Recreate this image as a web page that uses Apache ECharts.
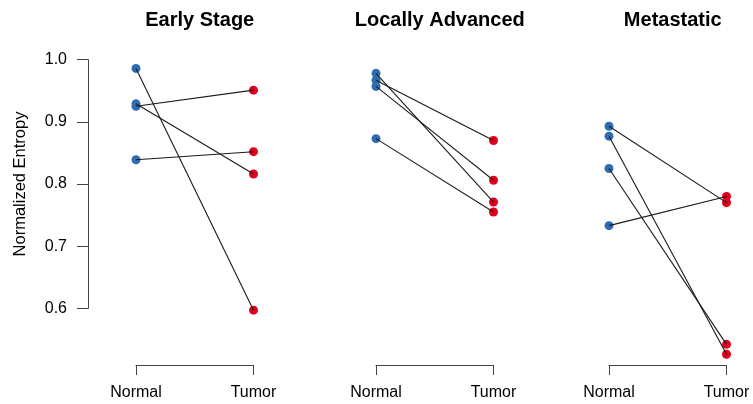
<!DOCTYPE html>
<html>
<head>
<meta charset="utf-8">
<script src="https://cdn.jsdelivr.net/npm/echarts@6/dist/echarts.min.js"></script>
<style>
  html, body { margin: 0; padding: 0; background: #fff; }
  #chart { width: 753px; height: 404px; }
</style>
</head>
<body>
<div id="chart"></div>
<script>
// panel titles and x labels
const panels = ["Early Stage", "Locally Advanced", "Metastatic"];
const xLabels = ["Normal", "Tumor"];
const yTicks = [0.6, 0.7, 0.8, 0.9, 1.0];

// paired values: normal[i] -> tumor[i]
const earlyNormal = [0.986, 0.925, 0.929, 0.839];
const earlyTumor = [0.597, 0.951, 0.816, 0.852];
const advancedNormal = [0.978, 0.967, 0.957, 0.873];
const advancedTumor = [0.771, 0.870, 0.806, 0.755];
const metaNormal = [0.893, 0.877, 0.825, 0.733];
const metaTumor = [0.770, 0.526, 0.542, 0.780];

const normals = [earlyNormal, advancedNormal, metaNormal];
const tumors = [earlyTumor, advancedTumor, metaTumor];

// 每个面板的位置
const panelLeft = [136, 376, 609];
const panelWidth = 117.5;
const font = "'Liberation Sans', Arial, sans-serif";

const myChart = echarts.init(document.getElementById("chart"));

const grid = panelLeft.map((left) => ({
  left: left,
  width: panelWidth,
  top: 59.7,
  bottom: 95.7,
}));

const title = panels.map((name, i) => ({
  text: name,
  left: panelLeft[i] + panelWidth / 2,
  top: 5,
  textAlign: "center",
  textStyle: {
    fontFamily: font,
    fontSize: 20,
    fontWeight: "bold",
    color: "#000",
  },
}));

const xAxis = panels.map((_, i) => ({
  type: "value",
  gridIndex: i,
  min: 1,
  max: 2,
  interval: 1,
  offset: 56.7,
  axisLine: { show: true, lineStyle: { color: "#444", width: 1 } },
  axisTick: { show: true, length: 10, lineStyle: { color: "#444" } },
  splitLine: { show: false },
  axisLabel: {
    margin: 20,
    fontFamily: font,
    fontSize: 16,
    color: "#000",
    showMinLabel: true,
    showMaxLabel: true,
    formatter: (v) => xLabels[Math.round(v) - 1] || "",
  },
}));

const yAxis = panels.map((_, i) => ({
  type: "value",
  gridIndex: i,
  show: i === 0,
  min: yTicks[0],
  max: yTicks[yTicks.length - 1],
  interval: 0.1,
  offset: 48,
  name: i === 0 ? "Normalized Entropy" : "",
  nameLocation: "middle",
  nameGap: 59,
  nameTextStyle: { fontFamily: font, fontSize: 16.5, color: "#000" },
  axisLine: { show: true, lineStyle: { color: "#444", width: 1 } },
  axisTick: { show: true, length: 11, lineStyle: { color: "#444" } },
  splitLine: { show: false },
  axisLabel: {
    margin: 21,
    fontFamily: font,
    fontSize: 16,
    color: "#000",
    formatter: (v) => v.toFixed(1),
  },
}));

const series = [];
panels.forEach((_, p) => {
  // 正常组 蓝点
  series.push({
    type: "scatter",
    xAxisIndex: p,
    yAxisIndex: p,
    clip: false,
    symbolSize: 9,
    itemStyle: { color: "#2d6db2", opacity: 1 },
    data: normals[p].map((v) => [1, v]),
    z: 2,
  });
  // 肿瘤组 红点
  series.push({
    type: "scatter",
    xAxisIndex: p,
    yAxisIndex: p,
    clip: false,
    symbolSize: 9,
    itemStyle: { color: "#e1001d", opacity: 1 },
    data: tumors[p].map((v) => [2, v]),
    z: 2,
  });
  // 配对连线
  normals[p].forEach((v, k) => {
    series.push({
      type: "line",
      xAxisIndex: p,
      yAxisIndex: p,
      clip: false,
      showSymbol: false,
      silent: true,
      lineStyle: { color: "#1a1a1a", width: 1.1 },
      data: [
        [1, v],
        [2, tumors[p][k]],
      ],
      z: 3,
    });
  });
});

myChart.setOption({
  animation: false,
  backgroundColor: "#fff",
  title,
  grid,
  xAxis,
  yAxis,
  series,
});
</script>
</body>
</html>
